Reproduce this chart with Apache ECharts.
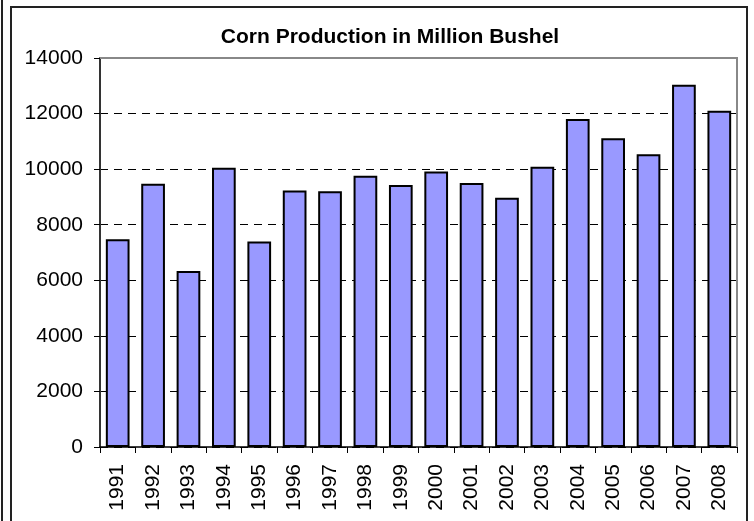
<!DOCTYPE html>
<html>
<head>
<meta charset="utf-8">
<script src="https://cdn.jsdelivr.net/npm/echarts@6/dist/echarts.min.js"></script>
<style>
  html, body { margin: 0; padding: 0; background: #fff; }
  #main { width: 754px; height: 521px; }
</style>
</head>
<body>
<div id="main"></div>
<script>
// data
var years = ['1991', '1992', '1993', '1994', '1995', '1996', '1997', '1998', '1999',
             '2000', '2001', '2002', '2003', '2004', '2005', '2006', '2007', '2008'];
var production = [7475, 9477, 6336, 10051, 7400, 9233, 9207, 9759, 9431,
                  9915, 9503, 8967, 10089, 11807, 11114, 10535, 13038, 12101];
var yTicks = [0, 2000, 4000, 6000, 8000, 10000, 12000, 14000];

var chart = echarts.init(document.getElementById('main'));

chart.setOption({
    animation: false,
    textStyle: { fontFamily: '"Liberation Sans", Arial, sans-serif' },
    title: {
        text: 'Corn Production in Million Bushel',
        left: 385,
        textAlign: 'center',
        top: 22,
        textStyle: { fontSize: 21, fontWeight: 'bold', color: '#000' }
    },
    grid: { left: 100, right: 17, top: 58, bottom: 74 },
    // outer frame, open at the bottom like the source
    graphic: [
        { type: 'line', shape: { x1: 2, y1: 0, x2: 2, y2: 521 },
          style: { stroke: '#222', lineWidth: 2 } },
        { type: 'polyline', shape: { points: [[11, 530], [11, 7], [747, 7], [747, 530]] },
          style: { stroke: '#222', lineWidth: 2, fill: null } },
        // gray border on top and right of plot area
        { type: 'polyline', shape: { points: [[100, 58], [737, 58], [737, 447]] },
          style: { stroke: '#888', lineWidth: 2, fill: null }, z: 10 }
    ],
    xAxis: {
        type: 'category',
        data: years,
        axisLine: { lineStyle: { color: '#000', width: 1.5 } },
        axisTick: { show: true, length: 6, lineStyle: { color: '#000' } },
        axisLabel: { rotate: 90, margin: 17, fontSize: 21, color: '#000' }
    },
    yAxis: {
        type: 'value',
        min: yTicks[0],
        max: yTicks[yTicks.length - 1],
        interval: 2000,
        axisLine: { show: true, lineStyle: { color: '#333', width: 2 } },
        axisTick: { show: true, length: 6, lineStyle: { color: '#000' } },
        axisLabel: { margin: 17, fontSize: 21, color: '#000',
                     formatter: function (v) { return String(v); } },
        splitLine: { show: true, lineStyle: { color: '#000', type: [8, 6], width: 1 } }
    },
    series: [{
        type: 'bar',
        data: production,
        barCategoryGap: '33%',
        itemStyle: { color: '#9999FF', borderColor: '#000', borderWidth: 2 }
    }]
});
</script>
</body>
</html>
